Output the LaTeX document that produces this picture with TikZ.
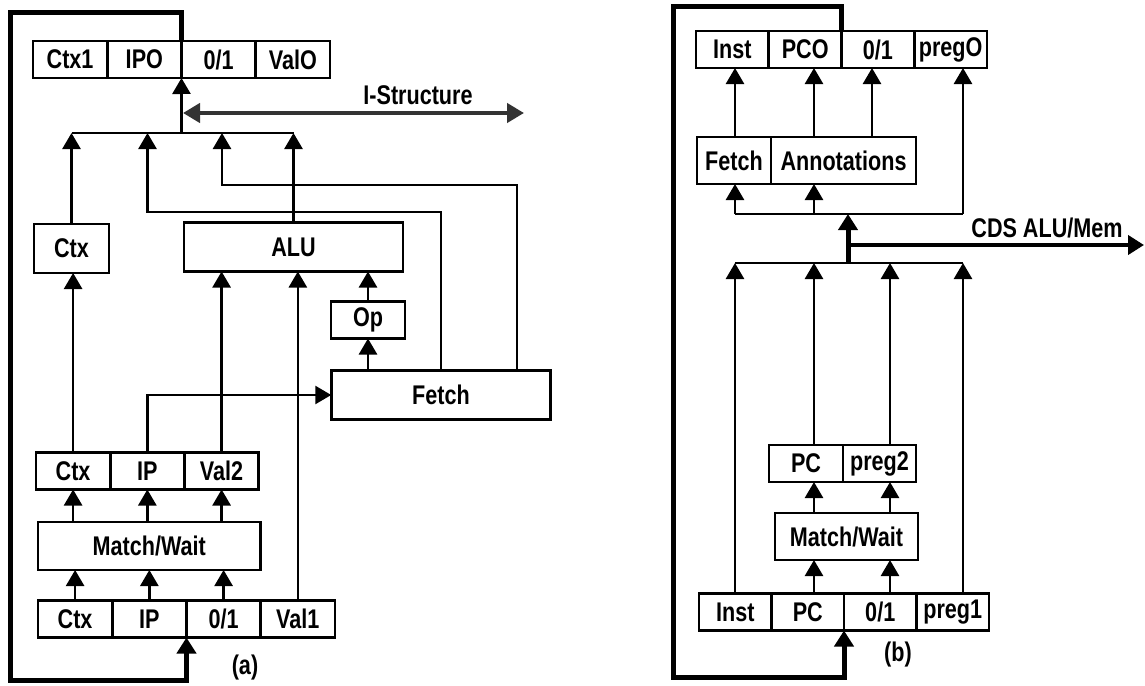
\documentclass[tikz,border=0pt]{standalone}
\usepackage{fontspec}
\setmainfont{Liberation Sans}[FakeStretch=0.8]
\usepackage{tikz}
\usetikzlibrary{arrows.meta,positioning}
\tikzset{
  pipecell/.style={
    draw,
    line width=2.6pt,
    minimum width=#1,
    minimum height=37pt,
    inner sep=0pt,
    outer sep=0pt
  },
  pipecell/.default=74.25pt,
  pipebox/.style={
    pipecell=#1,
    minimum height=49pt
  },
  pipearrow/.style={
    -{Triangle[length=16pt,width=18pt]},
    line width=2.6pt
  },
  pipebus/.style={
    line width=2.6pt
  },
  pipeloop/.style={
    -{Triangle[length=16pt,width=19pt]},
    line width=5pt
  },
  pipeport/.style={
    {Triangle[length=17pt,width=19pt]}-{Triangle[length=17pt,width=19pt]},
    line width=4.5pt,
    draw=black!80,
    fill=black!65
  },
  pipeout/.style={
    -{Triangle[length=16pt,width=19pt]},
    line width=4.5pt
  }
}

\begin{document}
\begin{tikzpicture}[x=1pt,y=-1pt,font=\bfseries\fontsize{27}{30}\selectfont]
  \useasboundingbox (0,0) rectangle (1145,685);

  % (a) token pipeline
  \node[pipecell] (ctxone) at (70.1,59.5) {Ctx1};
  \node[pipecell, right=0pt of ctxone] (ipo) {IPO};
  \node[pipecell, right=0pt of ipo] (flagouta) {0/1};
  \node[pipecell, right=0pt of flagouta] (valo) {ValO};

  \node[pipebox=75pt] (ctxbox) at (71.5,248.5) {Ctx};
  \node[pipebox=219pt] (alu) at (293.5,247) {ALU};
  \node[pipecell=74pt] (op) at (368,320) {Op};
  \node[pipebox=219.5pt] (fetcha) at (441,395) {Fetch};

  \node[pipecell] (ctxmid) at (73.1,471) {Ctx};
  \node[pipecell, right=0pt of ctxmid] (ipmid) {IP};
  \node[pipecell, right=0pt of ipmid] (valtwo) {Val2};
  \node[pipebox=222.5pt, minimum height=48pt] (matcha) at (149.25,546) {Match/Wait};

  \node[pipecell] (ctxin) at (75.1,619) {Ctx};
  \node[pipecell, right=0pt of ctxin] (ipin) {IP};
  \node[pipecell, right=0pt of ipin] (flagina) {0/1};
  \node[pipecell, right=0pt of flagina] (valone) {Val1};

  \node (istext) at (418,95) {I-Structure};
  \node (alabel) at (245,668) {(a)};

  \coordinate (abus) at (181.5,133);
  \coordinate (abendl) at (147.5,212);
  \coordinate (abendr) at (222,185);
  \coordinate (iswest) at (183,113);
  \coordinate (iseast) at (524,113);
  \coordinate (aloopn) at (10,13);
  \coordinate (aloops) at (10,680);

  \draw[pipearrow] (ctxin.north) -- (ctxin.north |- matcha.south);
  \draw[pipearrow] (ipin.north) -- (ipin.north |- matcha.south);
  \draw[pipearrow] (flagina.north) -- (flagina.north |- matcha.south);
  \draw[pipearrow] (matcha.north -| ctxmid.south) -- (ctxmid.south);
  \draw[pipearrow] (matcha.north -| ipmid.south) -- (ipmid.south);
  \draw[pipearrow] (matcha.north -| valtwo.south) -- (valtwo.south);
  \draw[pipearrow] (ctxmid.north) -- (ctxmid.north |- ctxbox.south);
  \draw[pipearrow] (ipmid.north) |- (fetcha.west);
  \draw[pipearrow] (valtwo.north) -- (valtwo.north |- alu.south);
  \draw[pipearrow] (valone.north) -- (valone.north |- alu.south);
  \draw[pipearrow] (fetcha.north -| op.south) -- (op.south);
  \draw[pipearrow] (op.north) -- (op.north |- alu.south);

  \draw[pipebus] (ctxbox.north |- abus) -- (alu.north |- abus);
  \draw[pipearrow] (ctxbox.north) -- (ctxbox.north |- abus);
  \draw[pipearrow] (fetcha.north) |- (abendl) -- (abendl |- abus);
  \draw[pipearrow] ([xshift=76pt]fetcha.north) |- (abendr) -- (abendr |- abus);
  \draw[pipearrow] (alu.north) -- (alu.north |- abus);
  \draw[pipearrow] (abus) -- (ipo.south east);
  \draw[pipeport] (iswest) -- (iseast);

  \draw[pipeloop] (ipo.north east) |- (aloopn) -- (aloops) -| (ipin.south east);

  % (b) instruction pipeline
  \node[pipecell=72.75pt] (instout) at (732.4,49.5) {Inst};
  \node[pipecell=72.75pt, right=0pt of instout] (pco) {PCO};
  \node[pipecell=72.75pt, right=0pt of pco] (flagoutb) {0/1};
  \node[pipecell=72.75pt, right=0pt of flagoutb] (prego) {pregO};

  \node[pipebox=74pt, minimum height=47pt] (fetchb) at (734,160.5) {Fetch};
  \node[pipebox=145pt, minimum height=47pt, right=0pt of fetchb] (annot) {Annotations};

  \node[pipecell=74pt] (pcmid) at (806,463.5) {PC};
  \node[pipecell=73pt, right=0pt of pcmid] (pregtwo) {preg2};
  \node[pipebox=143pt, minimum height=47pt] (matchb) at (846.5,536.5) {Match/Wait};

  \node[pipecell=72.5pt] (instin) at (735.25,612) {Inst};
  \node[pipecell=72.5pt, right=0pt of instin] (pcin) {PC};
  \node[pipecell=72.5pt, right=0pt of pcin] (flaginb) {0/1};
  \node[pipecell=72.5pt, right=0pt of flaginb] (pregone) {preg1};

  \node (cdstext) at (1047,228) {CDS ALU/Mem};
  \node (blabel) at (898,655) {(b)};

  \coordinate (colinst) at (735,0);
  \coordinate (colpc) at (814,0);
  \coordinate (colflag) at (872,0);
  \coordinate (colpreg) at (890,0);
  \coordinate (colright) at (963,0);
  \coordinate (bbus) at (848,214);
  \coordinate (bbuslow) at (848,263);
  \coordinate (bcds) at (848,245);
  \coordinate (bcdsend) at (1144,245);
  \coordinate (bloopn) at (673,7);
  \coordinate (bloops) at (673,677);

  \draw[pipearrow] (pcin.north -| colpc) -- (matchb.south -| colpc);
  \draw[pipearrow] (flaginb.north -| colpreg) -- (matchb.south -| colpreg);
  \draw[pipearrow] (matchb.north -| colpc) -- (pcmid.south -| colpc);
  \draw[pipearrow] (matchb.north -| colpreg) -- (pregtwo.south -| colpreg);

  \draw[pipebus] (colinst |- bbuslow) -- (colright |- bbuslow);
  \draw[pipearrow] (instin.north -| colinst) -- (colinst |- bbuslow);
  \draw[pipearrow] (pcmid.north -| colpc) -- (colpc |- bbuslow);
  \draw[pipearrow] (pregtwo.north -| colpreg) -- (colpreg |- bbuslow);
  \draw[pipearrow] (pregone.north -| colright) -- (colright |- bbuslow);

  \draw[pipeloop] (bbuslow) -- (bbus);
  \draw[pipeout] (bcds) -- (bcdsend);

  \draw[pipebus] (colinst |- bbus) -- (colright |- bbus);
  \draw[pipearrow] (colinst |- bbus) -- (fetchb.south -| colinst);
  \draw[pipearrow] (colpc |- bbus) -- (annot.south -| colpc);
  \draw[pipearrow] (colright |- bbus) -- (prego.south -| colright);
  \draw[pipearrow] (fetchb.north -| colinst) -- (instout.south -| colinst);
  \draw[pipearrow] (annot.north -| colpc) -- (pco.south -| colpc);
  \draw[pipearrow] (annot.north -| colflag) -- (flagoutb.south -| colflag);

  \draw[pipeloop] (pco.north east) |- (bloopn) -- (bloops) -| (pcin.south east);
\end{tikzpicture}
\end{document}
